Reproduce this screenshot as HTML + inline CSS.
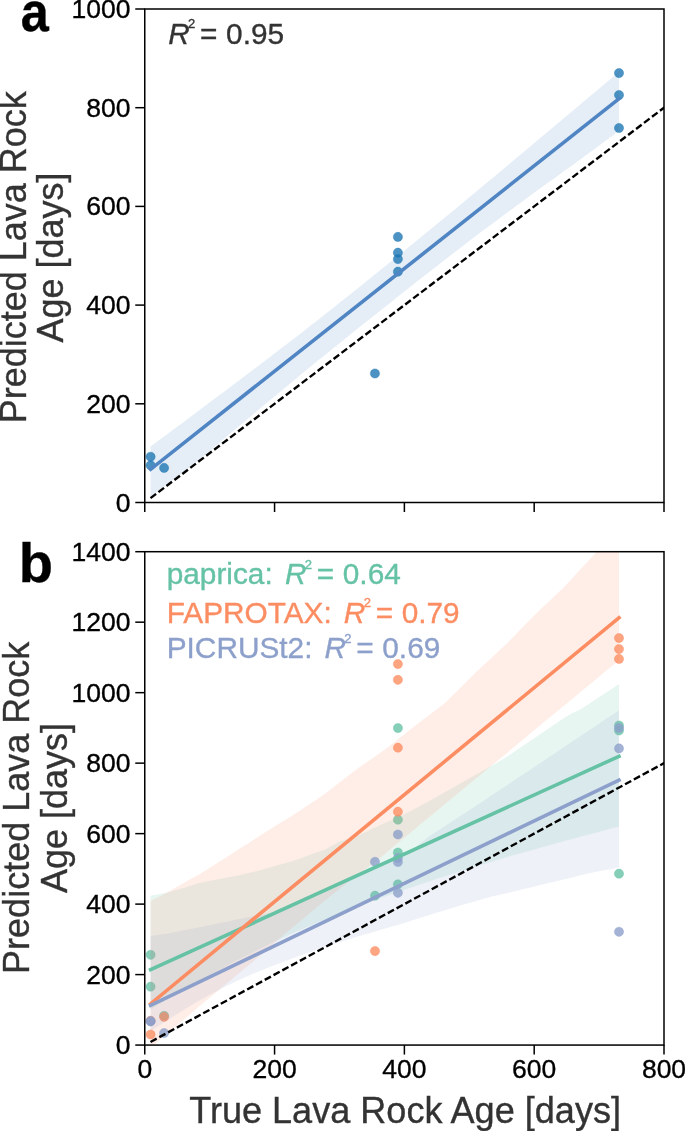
<!DOCTYPE html><html><head><meta charset="utf-8"><style>html,body{margin:0;padding:0;background:#fff;}body{width:685px;height:1131px;overflow:hidden;}svg{display:block;will-change:transform;filter:blur(0.3px);}text{font-family:"Liberation Sans",sans-serif;stroke-width:0.35px;}</style></head><body>
<svg width="685" height="1131" viewBox="0 0 685 1131">
<defs><clipPath id="ca"><rect x="144.76" y="9.00" width="519.24" height="493.50"/></clipPath>
<clipPath id="cb"><rect x="144.76" y="551.70" width="519.24" height="493.37"/></clipPath></defs>
<g clip-path="url(#ca)">
<polygon points="150.6,446.6 158.5,440.6 166.5,434.7 174.4,428.8 182.4,422.9 190.3,416.9 198.2,410.9 206.2,405.0 214.1,399.1 222.1,393.2 230.0,387.2 237.9,381.3 245.9,375.3 253.8,369.3 261.7,363.3 269.7,357.2 277.6,351.1 285.6,345.1 293.5,339.0 301.4,332.9 309.4,326.6 317.3,320.4 325.3,314.1 333.2,307.9 341.1,301.6 349.1,295.3 357.0,288.9 365.0,282.5 372.9,276.1 380.8,269.7 388.8,263.3 396.7,256.9 404.6,250.4 412.6,244.0 420.5,237.5 428.5,231.0 436.4,224.5 444.3,218.0 452.3,211.4 460.2,204.9 468.2,198.3 476.1,191.7 484.0,185.1 492.0,178.5 499.9,171.9 507.9,165.2 515.8,158.6 523.7,152.0 531.7,145.3 539.6,138.6 547.5,132.0 555.5,125.3 563.4,118.6 571.4,112.0 579.3,105.2 587.2,98.6 595.2,91.9 603.1,85.2 611.1,78.5 619.0,71.8 619.0,130.8 611.1,136.7 603.1,142.6 595.2,148.5 587.2,154.3 579.3,160.2 571.4,165.9 563.4,171.6 555.5,177.4 547.5,183.1 539.6,188.8 531.7,194.6 523.7,200.4 515.8,206.2 507.9,212.0 499.9,218.0 492.0,223.9 484.0,229.7 476.1,235.7 468.2,241.8 460.2,248.0 452.3,254.1 444.3,260.2 436.4,266.4 428.5,272.6 420.5,278.8 412.6,284.9 404.6,291.2 396.7,297.5 388.8,303.9 380.8,310.2 372.9,316.4 365.0,322.7 357.0,329.0 349.1,335.4 341.1,341.9 333.2,348.3 325.3,354.7 317.3,361.1 309.4,367.6 301.4,374.1 293.5,380.8 285.6,387.3 277.6,394.0 269.7,400.6 261.7,407.1 253.8,413.7 245.9,420.4 237.9,427.0 230.0,433.7 222.1,440.5 214.1,447.3 206.2,454.0 198.2,460.5 190.3,466.7 182.4,472.7 174.4,478.8 166.5,484.9 158.5,491.0 150.6,497.1" fill="#5085c4" fill-opacity="0.15"/>
<circle cx="150.60" cy="456.76" r="4.6" fill="#1f77b4" fill-opacity="0.8" stroke="#1f77b4" stroke-opacity="0.8" stroke-width="0.5"/>
<circle cx="150.60" cy="465.30" r="4.6" fill="#1f77b4" fill-opacity="0.8" stroke="#1f77b4" stroke-opacity="0.8" stroke-width="0.5"/>
<circle cx="164.10" cy="467.90" r="4.6" fill="#1f77b4" fill-opacity="0.8" stroke="#1f77b4" stroke-opacity="0.8" stroke-width="0.5"/>
<circle cx="374.95" cy="373.50" r="4.6" fill="#1f77b4" fill-opacity="0.8" stroke="#1f77b4" stroke-opacity="0.8" stroke-width="0.5"/>
<circle cx="397.90" cy="236.90" r="4.6" fill="#1f77b4" fill-opacity="0.8" stroke="#1f77b4" stroke-opacity="0.8" stroke-width="0.5"/>
<circle cx="397.90" cy="252.70" r="4.6" fill="#1f77b4" fill-opacity="0.8" stroke="#1f77b4" stroke-opacity="0.8" stroke-width="0.5"/>
<circle cx="397.90" cy="259.10" r="4.6" fill="#1f77b4" fill-opacity="0.8" stroke="#1f77b4" stroke-opacity="0.8" stroke-width="0.5"/>
<circle cx="397.90" cy="271.70" r="4.6" fill="#1f77b4" fill-opacity="0.8" stroke="#1f77b4" stroke-opacity="0.8" stroke-width="0.5"/>
<circle cx="619.00" cy="73.10" r="4.6" fill="#1f77b4" fill-opacity="0.8" stroke="#1f77b4" stroke-opacity="0.8" stroke-width="0.5"/>
<circle cx="619.00" cy="95.00" r="4.6" fill="#1f77b4" fill-opacity="0.8" stroke="#1f77b4" stroke-opacity="0.8" stroke-width="0.5"/>
<circle cx="619.00" cy="128.00" r="4.6" fill="#1f77b4" fill-opacity="0.8" stroke="#1f77b4" stroke-opacity="0.8" stroke-width="0.5"/>
<line x1="150.60" y1="469.29" x2="619.00" y2="98.76" stroke="#5085c4" stroke-width="3.6" stroke-linecap="square"/>
<line x1="150.50" y1="498.14" x2="728.90" y2="58.35" stroke="#000" stroke-width="2.4" stroke-dasharray="7 3"/>
</g>
<g clip-path="url(#cb)">
<circle cx="150.60" cy="954.85" r="4.6" fill="#66c2a5" fill-opacity="0.8" stroke="#66c2a5" stroke-opacity="0.8" stroke-width="0.5"/>
<circle cx="150.60" cy="986.70" r="4.6" fill="#66c2a5" fill-opacity="0.8" stroke="#66c2a5" stroke-opacity="0.8" stroke-width="0.5"/>
<circle cx="164.10" cy="1015.80" r="4.6" fill="#66c2a5" fill-opacity="0.8" stroke="#66c2a5" stroke-opacity="0.8" stroke-width="0.5"/>
<circle cx="375.00" cy="895.70" r="4.6" fill="#66c2a5" fill-opacity="0.8" stroke="#66c2a5" stroke-opacity="0.8" stroke-width="0.5"/>
<circle cx="397.90" cy="728.10" r="4.6" fill="#66c2a5" fill-opacity="0.8" stroke="#66c2a5" stroke-opacity="0.8" stroke-width="0.5"/>
<circle cx="397.90" cy="819.70" r="4.6" fill="#66c2a5" fill-opacity="0.8" stroke="#66c2a5" stroke-opacity="0.8" stroke-width="0.5"/>
<circle cx="397.90" cy="852.50" r="4.6" fill="#66c2a5" fill-opacity="0.8" stroke="#66c2a5" stroke-opacity="0.8" stroke-width="0.5"/>
<circle cx="397.90" cy="884.30" r="4.6" fill="#66c2a5" fill-opacity="0.8" stroke="#66c2a5" stroke-opacity="0.8" stroke-width="0.5"/>
<circle cx="619.00" cy="725.50" r="4.6" fill="#66c2a5" fill-opacity="0.8" stroke="#66c2a5" stroke-opacity="0.8" stroke-width="0.5"/>
<circle cx="619.00" cy="730.50" r="4.6" fill="#66c2a5" fill-opacity="0.8" stroke="#66c2a5" stroke-opacity="0.8" stroke-width="0.5"/>
<circle cx="619.00" cy="873.70" r="4.6" fill="#66c2a5" fill-opacity="0.8" stroke="#66c2a5" stroke-opacity="0.8" stroke-width="0.5"/>
<polygon points="150.6,895.7 158.5,894.2 166.5,892.7 174.4,890.6 182.4,888.2 190.3,885.7 198.2,883.2 206.2,881.5 214.1,880.0 222.1,878.4 230.0,876.9 237.9,875.4 245.9,873.6 253.8,871.7 261.7,869.8 269.7,867.6 277.6,865.3 285.6,863.0 293.5,860.7 301.4,858.0 309.4,855.1 317.3,852.3 325.3,849.4 333.2,844.9 341.1,840.7 349.1,838.5 357.0,835.9 365.0,832.2 372.9,828.5 380.8,824.8 388.8,821.3 396.7,817.9 404.6,814.1 412.6,810.0 420.5,805.7 428.5,801.3 436.4,797.0 444.3,792.6 452.3,788.0 460.2,783.5 468.2,779.0 476.1,774.5 484.0,769.9 492.0,765.4 499.9,760.9 507.9,756.1 515.8,750.7 523.7,745.3 531.7,739.9 539.6,734.6 547.5,729.2 555.5,723.8 563.4,718.4 571.4,713.4 579.3,710.1 587.2,705.0 595.2,699.7 603.1,694.5 611.1,689.3 619.0,684.1 619.0,826.4 611.1,828.5 603.1,830.7 595.2,832.9 587.2,835.0 579.3,837.1 571.4,839.2 563.4,841.3 555.5,843.6 547.5,845.7 539.6,848.1 531.7,850.2 523.7,852.4 515.8,854.6 507.9,856.8 499.9,859.3 492.0,861.7 484.0,864.0 476.1,866.5 468.2,869.0 460.2,871.4 452.3,874.0 444.3,876.5 436.4,879.1 428.5,881.7 420.5,884.2 412.6,886.9 404.6,889.7 396.7,892.4 388.8,895.2 380.8,898.1 372.9,901.0 365.0,903.9 357.0,906.9 349.1,909.9 341.1,913.1 333.2,916.3 325.3,919.5 317.3,922.7 309.4,926.1 301.4,929.5 293.5,933.0 285.6,936.6 277.6,940.3 269.7,944.1 261.7,948.0 253.8,951.9 245.9,955.9 237.9,960.0 230.0,964.0 222.1,968.2 214.1,972.5 206.2,976.9 198.2,981.4 190.3,985.9 182.4,990.6 174.4,995.2 166.5,999.9 158.5,1004.6 150.6,1009.4" fill="#66c2a5" fill-opacity="0.15"/>
<circle cx="150.60" cy="1034.50" r="4.6" fill="#fc8d62" fill-opacity="0.8" stroke="#fc8d62" stroke-opacity="0.8" stroke-width="0.5"/>
<circle cx="150.60" cy="1020.70" r="4.6" fill="#fc8d62" fill-opacity="0.8" stroke="#fc8d62" stroke-opacity="0.8" stroke-width="0.5"/>
<circle cx="164.10" cy="1016.90" r="4.6" fill="#fc8d62" fill-opacity="0.8" stroke="#fc8d62" stroke-opacity="0.8" stroke-width="0.5"/>
<circle cx="375.00" cy="951.10" r="4.6" fill="#fc8d62" fill-opacity="0.8" stroke="#fc8d62" stroke-opacity="0.8" stroke-width="0.5"/>
<circle cx="397.90" cy="664.10" r="4.6" fill="#fc8d62" fill-opacity="0.8" stroke="#fc8d62" stroke-opacity="0.8" stroke-width="0.5"/>
<circle cx="397.90" cy="679.85" r="4.6" fill="#fc8d62" fill-opacity="0.8" stroke="#fc8d62" stroke-opacity="0.8" stroke-width="0.5"/>
<circle cx="397.90" cy="747.70" r="4.6" fill="#fc8d62" fill-opacity="0.8" stroke="#fc8d62" stroke-opacity="0.8" stroke-width="0.5"/>
<circle cx="397.90" cy="811.70" r="4.6" fill="#fc8d62" fill-opacity="0.8" stroke="#fc8d62" stroke-opacity="0.8" stroke-width="0.5"/>
<circle cx="619.00" cy="638.10" r="4.6" fill="#fc8d62" fill-opacity="0.8" stroke="#fc8d62" stroke-opacity="0.8" stroke-width="0.5"/>
<circle cx="619.00" cy="649.10" r="4.6" fill="#fc8d62" fill-opacity="0.8" stroke="#fc8d62" stroke-opacity="0.8" stroke-width="0.5"/>
<circle cx="619.00" cy="658.90" r="4.6" fill="#fc8d62" fill-opacity="0.8" stroke="#fc8d62" stroke-opacity="0.8" stroke-width="0.5"/>
<polygon points="150.6,900.9 158.5,896.9 166.5,892.7 174.4,888.2 182.4,883.8 190.3,879.3 198.2,874.9 206.2,870.0 214.1,865.0 222.1,859.9 230.0,854.9 237.9,849.8 245.9,844.7 253.8,839.7 261.7,834.6 269.7,829.6 277.6,824.6 285.6,819.7 293.5,814.7 301.4,809.5 309.4,804.2 317.3,798.9 325.3,793.6 333.2,787.4 341.1,781.2 349.1,775.0 357.0,769.0 365.0,763.5 372.9,757.9 380.8,752.4 388.8,746.5 396.7,740.3 404.6,734.0 412.6,727.7 420.5,721.6 428.5,715.6 436.4,709.6 444.3,703.6 452.3,695.8 460.2,687.9 468.2,679.9 476.1,672.1 484.0,664.7 492.0,657.4 499.9,650.0 507.9,642.4 515.8,634.3 523.7,626.2 531.7,618.1 539.6,610.3 547.5,602.8 555.5,595.2 563.4,587.7 571.4,579.2 579.3,570.5 587.2,562.0 595.2,553.5 603.1,545.0 611.1,536.5 619.0,528.0 619.0,660.3 611.1,666.8 603.1,673.3 595.2,679.9 587.2,686.5 579.3,693.1 571.4,699.7 563.4,706.2 555.5,712.8 547.5,719.3 539.6,725.8 531.7,732.3 523.7,738.9 515.8,745.6 507.9,752.2 499.9,758.7 492.0,765.3 484.0,772.0 476.1,778.6 468.2,785.1 460.2,791.6 452.3,798.1 444.3,804.7 436.4,811.3 428.5,817.8 420.5,824.3 412.6,830.9 404.6,837.5 396.7,844.1 388.8,850.7 380.8,857.2 372.9,863.4 365.0,869.5 357.0,875.6 349.1,881.6 341.1,887.7 333.2,893.9 325.3,900.5 317.3,907.0 309.4,913.6 301.4,920.2 293.5,926.7 285.6,933.3 277.6,940.2 269.7,947.2 261.7,954.2 253.8,960.9 245.9,967.5 237.9,974.0 230.0,980.7 222.1,987.3 214.1,994.0 206.2,1000.6 198.2,1007.3 190.3,1014.2 182.4,1020.8 174.4,1027.5 166.5,1034.3 158.5,1041.1 150.6,1048.0" fill="#fc8d62" fill-opacity="0.15"/>
<circle cx="150.60" cy="1021.30" r="4.6" fill="#8da0cb" fill-opacity="0.8" stroke="#8da0cb" stroke-opacity="0.8" stroke-width="0.5"/>
<circle cx="150.60" cy="1021.30" r="4.6" fill="#8da0cb" fill-opacity="0.8" stroke="#8da0cb" stroke-opacity="0.8" stroke-width="0.5"/>
<circle cx="164.10" cy="1033.00" r="4.6" fill="#8da0cb" fill-opacity="0.8" stroke="#8da0cb" stroke-opacity="0.8" stroke-width="0.5"/>
<circle cx="375.00" cy="861.80" r="4.6" fill="#8da0cb" fill-opacity="0.8" stroke="#8da0cb" stroke-opacity="0.8" stroke-width="0.5"/>
<circle cx="397.90" cy="834.50" r="4.6" fill="#8da0cb" fill-opacity="0.8" stroke="#8da0cb" stroke-opacity="0.8" stroke-width="0.5"/>
<circle cx="397.90" cy="858.00" r="4.6" fill="#8da0cb" fill-opacity="0.8" stroke="#8da0cb" stroke-opacity="0.8" stroke-width="0.5"/>
<circle cx="397.90" cy="862.00" r="4.6" fill="#8da0cb" fill-opacity="0.8" stroke="#8da0cb" stroke-opacity="0.8" stroke-width="0.5"/>
<circle cx="397.90" cy="892.80" r="4.6" fill="#8da0cb" fill-opacity="0.8" stroke="#8da0cb" stroke-opacity="0.8" stroke-width="0.5"/>
<circle cx="619.00" cy="728.00" r="4.6" fill="#8da0cb" fill-opacity="0.8" stroke="#8da0cb" stroke-opacity="0.8" stroke-width="0.5"/>
<circle cx="619.00" cy="748.40" r="4.6" fill="#8da0cb" fill-opacity="0.8" stroke="#8da0cb" stroke-opacity="0.8" stroke-width="0.5"/>
<circle cx="619.00" cy="931.80" r="4.6" fill="#8da0cb" fill-opacity="0.8" stroke="#8da0cb" stroke-opacity="0.8" stroke-width="0.5"/>
<polygon points="150.6,936.0 158.5,934.8 166.5,933.7 174.4,932.3 182.4,930.6 190.3,929.0 198.2,927.4 206.2,925.8 214.1,924.2 222.1,922.5 230.0,920.9 237.9,919.2 245.9,917.7 253.8,916.2 261.7,914.7 269.7,913.1 277.6,911.5 285.6,909.8 293.5,906.3 301.4,902.9 309.4,899.3 317.3,895.8 325.3,892.3 333.2,888.8 341.1,885.1 349.1,881.3 357.0,877.5 365.0,873.8 372.9,870.0 380.8,866.2 388.8,862.4 396.7,858.6 404.6,855.5 412.6,850.2 420.5,843.3 428.5,836.8 436.4,831.6 444.3,826.5 452.3,821.3 460.2,816.1 468.2,810.9 476.1,805.6 484.0,800.4 492.0,795.1 499.9,789.8 507.9,784.5 515.8,779.3 523.7,774.0 531.7,768.7 539.6,763.4 547.5,758.0 555.5,752.7 563.4,747.4 571.4,742.1 579.3,736.8 587.2,731.5 595.2,726.2 603.1,720.8 611.1,715.5 619.0,710.2 619.0,867.3 611.1,869.3 603.1,870.6 595.2,871.9 587.2,873.7 579.3,875.6 571.4,877.7 563.4,879.5 555.5,881.6 547.5,883.3 539.6,885.2 531.7,887.2 523.7,889.0 515.8,891.1 507.9,893.0 499.9,894.7 492.0,896.6 484.0,898.8 476.1,900.9 468.2,903.2 460.2,905.5 452.3,907.9 444.3,910.4 436.4,912.7 428.5,915.3 420.5,917.7 412.6,920.3 404.6,922.9 396.7,925.3 388.8,927.4 380.8,929.8 372.9,932.2 365.0,934.4 357.0,936.8 349.1,939.3 341.1,941.7 333.2,944.1 325.3,946.7 317.3,949.5 309.4,952.5 301.4,955.1 293.5,958.1 285.6,961.1 277.6,964.1 269.7,967.1 261.7,970.2 253.8,973.5 245.9,977.0 237.9,980.5 230.0,984.3 222.1,988.3 214.1,992.4 206.2,996.8 198.2,1001.3 190.3,1006.1 182.4,1010.8 174.4,1015.8 166.5,1020.7 158.5,1025.9 150.6,1031.2" fill="#8da0cb" fill-opacity="0.15"/>
<line x1="150.60" y1="969.66" x2="619.00" y2="756.33" stroke="#66c2a5" stroke-width="3.6" stroke-linecap="square"/>
<line x1="150.60" y1="1003.78" x2="619.00" y2="617.83" stroke="#fc8d62" stroke-width="3.6" stroke-linecap="square"/>
<line x1="150.60" y1="1005.37" x2="619.00" y2="780.06" stroke="#8da0cb" stroke-width="3.6" stroke-linecap="square"/>
<line x1="150.50" y1="1041.95" x2="728.90" y2="727.90" stroke="#000" stroke-width="2.4" stroke-dasharray="7 3"/>
</g>
<rect x="144.76" y="9.00" width="519.24" height="493.50" fill="none" stroke="#000" stroke-width="1.5"/>
<line x1="144.76" y1="502.50" x2="144.76" y2="512.00" stroke="#000" stroke-width="1.5"/>
<line x1="274.57" y1="502.50" x2="274.57" y2="512.00" stroke="#000" stroke-width="1.5"/>
<line x1="404.38" y1="502.50" x2="404.38" y2="512.00" stroke="#000" stroke-width="1.5"/>
<line x1="534.19" y1="502.50" x2="534.19" y2="512.00" stroke="#000" stroke-width="1.5"/>
<line x1="664.00" y1="502.50" x2="664.00" y2="512.00" stroke="#000" stroke-width="1.5"/>
<rect x="144.76" y="551.70" width="519.24" height="493.37" fill="none" stroke="#000" stroke-width="1.5"/>
<line x1="144.76" y1="1045.07" x2="144.76" y2="1054.57" stroke="#000" stroke-width="1.5"/>
<line x1="274.57" y1="1045.07" x2="274.57" y2="1054.57" stroke="#000" stroke-width="1.5"/>
<line x1="404.38" y1="1045.07" x2="404.38" y2="1054.57" stroke="#000" stroke-width="1.5"/>
<line x1="534.19" y1="1045.07" x2="534.19" y2="1054.57" stroke="#000" stroke-width="1.5"/>
<line x1="664.00" y1="1045.07" x2="664.00" y2="1054.57" stroke="#000" stroke-width="1.5"/>
<line x1="135.26" y1="502.50" x2="144.76" y2="502.50" stroke="#000" stroke-width="1.5"/>
<text x="130.4" y="511.50" font-size="26.5" text-anchor="end" fill="#000" stroke="#000">0</text>
<line x1="135.26" y1="403.80" x2="144.76" y2="403.80" stroke="#000" stroke-width="1.5"/>
<text x="130.4" y="412.80" font-size="26.5" text-anchor="end" fill="#000" stroke="#000">200</text>
<line x1="135.26" y1="305.10" x2="144.76" y2="305.10" stroke="#000" stroke-width="1.5"/>
<text x="130.4" y="314.10" font-size="26.5" text-anchor="end" fill="#000" stroke="#000">400</text>
<line x1="135.26" y1="206.40" x2="144.76" y2="206.40" stroke="#000" stroke-width="1.5"/>
<text x="130.4" y="215.40" font-size="26.5" text-anchor="end" fill="#000" stroke="#000">600</text>
<line x1="135.26" y1="107.70" x2="144.76" y2="107.70" stroke="#000" stroke-width="1.5"/>
<text x="130.4" y="116.70" font-size="26.5" text-anchor="end" fill="#000" stroke="#000">800</text>
<line x1="135.26" y1="9.00" x2="144.76" y2="9.00" stroke="#000" stroke-width="1.5"/>
<text x="130.4" y="18.00" font-size="26.5" text-anchor="end" fill="#000" stroke="#000">1000</text>
<line x1="135.26" y1="1045.07" x2="144.76" y2="1045.07" stroke="#000" stroke-width="1.5"/>
<text x="130.4" y="1054.07" font-size="26.5" text-anchor="end" fill="#000" stroke="#000">0</text>
<line x1="135.26" y1="974.59" x2="144.76" y2="974.59" stroke="#000" stroke-width="1.5"/>
<text x="130.4" y="983.59" font-size="26.5" text-anchor="end" fill="#000" stroke="#000">200</text>
<line x1="135.26" y1="904.11" x2="144.76" y2="904.11" stroke="#000" stroke-width="1.5"/>
<text x="130.4" y="913.11" font-size="26.5" text-anchor="end" fill="#000" stroke="#000">400</text>
<line x1="135.26" y1="833.63" x2="144.76" y2="833.63" stroke="#000" stroke-width="1.5"/>
<text x="130.4" y="842.63" font-size="26.5" text-anchor="end" fill="#000" stroke="#000">600</text>
<line x1="135.26" y1="763.14" x2="144.76" y2="763.14" stroke="#000" stroke-width="1.5"/>
<text x="130.4" y="772.14" font-size="26.5" text-anchor="end" fill="#000" stroke="#000">800</text>
<line x1="135.26" y1="692.66" x2="144.76" y2="692.66" stroke="#000" stroke-width="1.5"/>
<text x="130.4" y="701.66" font-size="26.5" text-anchor="end" fill="#000" stroke="#000">1000</text>
<line x1="135.26" y1="622.18" x2="144.76" y2="622.18" stroke="#000" stroke-width="1.5"/>
<text x="130.4" y="631.18" font-size="26.5" text-anchor="end" fill="#000" stroke="#000">1200</text>
<line x1="135.26" y1="551.70" x2="144.76" y2="551.70" stroke="#000" stroke-width="1.5"/>
<text x="130.4" y="560.70" font-size="26.5" text-anchor="end" fill="#000" stroke="#000">1400</text>
<text x="144.76" y="1078" font-size="26.5" text-anchor="middle" fill="#000" stroke="#000">0</text>
<text x="274.57" y="1078" font-size="26.5" text-anchor="middle" fill="#000" stroke="#000">200</text>
<text x="404.38" y="1078" font-size="26.5" text-anchor="middle" fill="#000" stroke="#000">400</text>
<text x="534.19" y="1078" font-size="26.5" text-anchor="middle" fill="#000" stroke="#000">600</text>
<text x="664.00" y="1078" font-size="26.5" text-anchor="middle" fill="#000" stroke="#000">800</text>
<text x="189.2" y="1122.8" font-size="36.1" fill="#333333" stroke="#333333">True Lava Rock Age [days]</text>
<text transform="translate(25.7,423.3) rotate(-90)" font-size="36" fill="#333333" stroke="#333333">Predicted Lava Rock</text>
<text transform="translate(63,257.5) rotate(-90)" font-size="36" fill="#333333" stroke="#333333" text-anchor="middle">Age [days]</text>
<text transform="translate(29.3,973.9) rotate(-90)" font-size="36" fill="#333333" stroke="#333333">Predicted Lava Rock</text>
<text transform="translate(66.6,808) rotate(-90)" font-size="36" fill="#333333" stroke="#333333" text-anchor="middle">Age [days]</text>
<text x="19" y="31" font-size="56" font-weight="bold" fill="#000" stroke="#000" transform="translate(35.5,0) scale(0.9,1) translate(-35.5,0)">a</text>
<text x="18.8" y="582" font-size="56" font-weight="bold" fill="#000" stroke="#000">b</text>
<text x="168.20" y="43.6" font-size="29.8" font-style="italic" fill="#333333" stroke="#333333">R</text><text x="188.05" y="28.00" font-size="13" fill="#333333" stroke="#333333">2</text><text x="200.10" y="43.6" font-size="29.8" fill="#333333" stroke="#333333">=</text><text x="226.10" y="43.6" font-size="29.8" fill="#333333" stroke="#333333">0.95</text>
<text x="166.72" y="584.3" font-size="29.8" fill="#66c2a5" stroke="#66c2a5">paprica:</text><text x="284.90" y="584.3" font-size="29.8" font-style="italic" fill="#66c2a5" stroke="#66c2a5">R</text><text x="304.75" y="568.70" font-size="13" fill="#66c2a5" stroke="#66c2a5">2</text><text x="316.80" y="584.3" font-size="29.8" fill="#66c2a5" stroke="#66c2a5">=</text><text x="342.80" y="584.3" font-size="29.8" fill="#66c2a5" stroke="#66c2a5">0.64</text>
<text x="166.72" y="622.9" font-size="29.8" fill="#fc8d62" stroke="#fc8d62">FAPROTAX:</text><text x="343.80" y="622.9" font-size="29.8" font-style="italic" fill="#fc8d62" stroke="#fc8d62">R</text><text x="363.65" y="607.30" font-size="13" fill="#fc8d62" stroke="#fc8d62">2</text><text x="375.70" y="622.9" font-size="29.8" fill="#fc8d62" stroke="#fc8d62">=</text><text x="401.70" y="622.9" font-size="29.8" fill="#fc8d62" stroke="#fc8d62">0.79</text>
<text x="166.72" y="658.3" font-size="29.8" fill="#8da0cb" stroke="#8da0cb">PICRUSt2:</text><text x="324.40" y="658.3" font-size="29.8" font-style="italic" fill="#8da0cb" stroke="#8da0cb">R</text><text x="344.25" y="642.70" font-size="13" fill="#8da0cb" stroke="#8da0cb">2</text><text x="356.30" y="658.3" font-size="29.8" fill="#8da0cb" stroke="#8da0cb">=</text><text x="382.30" y="658.3" font-size="29.8" fill="#8da0cb" stroke="#8da0cb">0.69</text>
</svg></body></html>
